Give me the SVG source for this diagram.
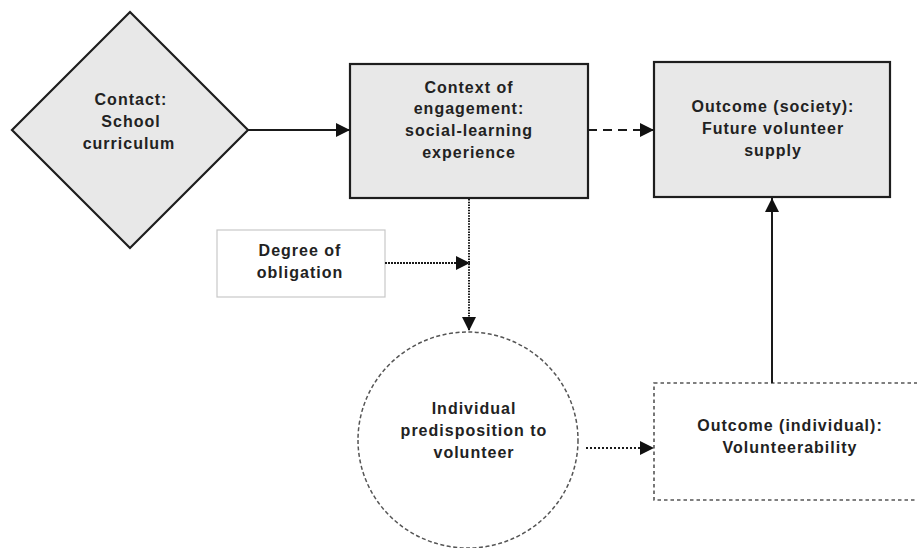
<svg xmlns="http://www.w3.org/2000/svg" width="917" height="548" viewBox="0 0 917 548">
<style>
text{font-family:"Liberation Sans",Arial,Helvetica,sans-serif;font-size:16px;font-weight:bold;fill:#222;text-anchor:middle;letter-spacing:1px}
.shaded{fill:#e8e8e8;stroke:#1e1e1e;stroke-width:2.2}
.conn{fill:none;stroke:#1a1a1a;stroke-width:2}
</style>
<defs>
<marker id="ah" viewBox="0 0 10 10" refX="10" refY="5" markerWidth="18" markerHeight="14" markerUnits="userSpaceOnUse" orient="auto">
<path d="M0,0 L10,5 L0,10 z" fill="#111"/>
</marker>
</defs>
<rect width="917" height="548" fill="#fff"/>
<g id="contact">
<polygon class="shaded" points="130,12 248,130 130,248 12,130"/>
<text x="131" y="105">Contact:</text>
<text x="131" y="127">School</text>
<text x="129" y="149">curriculum</text>
</g>
<g id="context">
<rect class="shaded" x="350" y="64" width="238" height="134"/>
<text x="469" y="93">Context of</text>
<text x="469" y="114">engagement:</text>
<text x="469" y="136">social-learning</text>
<text x="469" y="158">experience</text>
</g>
<g id="society">
<rect class="shaded" x="654" y="62" width="236" height="135"/>
<text x="773" y="112">Outcome (society):</text>
<text x="773" y="134">Future volunteer</text>
<text x="773" y="156">supply</text>
</g>
<g id="obligation">
<rect x="217" y="230" width="168" height="67" fill="#fff" stroke="#c8c8c8" stroke-width="1.2"/>
<text x="300" y="256">Degree of</text>
<text x="300" y="278">obligation</text>
</g>
<g id="predisposition">
<ellipse cx="468" cy="440" rx="110" ry="108" fill="#fff" stroke="#555" stroke-width="1.5" stroke-dasharray="4 2.5"/>
<text x="474" y="414">Individual</text>
<text x="474" y="436">predisposition to</text>
<text x="474" y="458">volunteer</text>
</g>
<g id="individual">
<rect x="654" y="383" width="270" height="117" fill="#fff" stroke="#555" stroke-width="1.6" stroke-dasharray="3.5 3"/>
<text x="790" y="431">Outcome (individual):</text>
<text x="790" y="453">Volunteerability</text>
</g>
<g id="connectors">
<line class="conn" x1="248" y1="130" x2="350" y2="130" marker-end="url(#ah)"/>
<line class="conn" x1="588" y1="130" x2="654" y2="130" stroke-dasharray="9 6" marker-end="url(#ah)"/>
<line class="conn" x1="469" y1="199" x2="469" y2="331" stroke-dasharray="1.5 1.2" marker-end="url(#ah)"/>
<line class="conn" x1="385" y1="263" x2="470" y2="263" stroke="#777" stroke-dasharray="2 1" marker-end="url(#ah)"/>
<line class="conn" x1="586" y1="448" x2="654" y2="448" stroke-width="1.8" stroke-dasharray="2 2" marker-end="url(#ah)"/>
<line class="conn" x1="772" y1="383" x2="772" y2="198" marker-end="url(#ah)"/>
</g>
</svg>
